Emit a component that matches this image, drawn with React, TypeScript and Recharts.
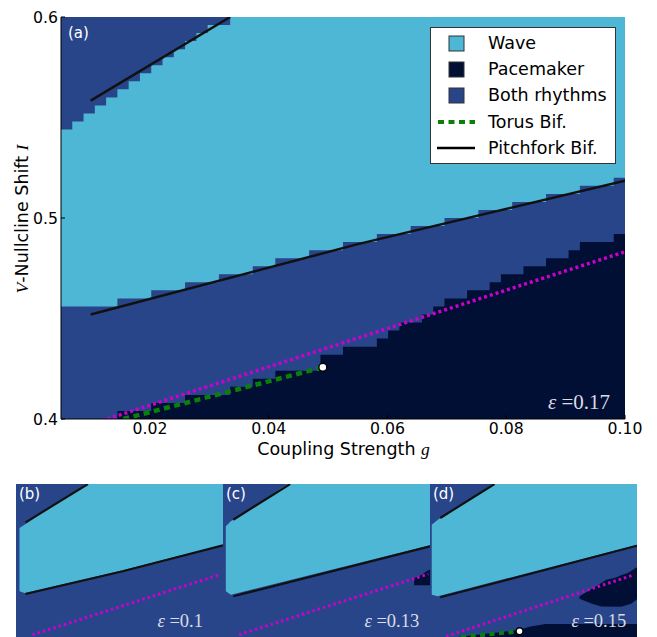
import { Area, CartesianGrid, ComposedChart, Legend, Line, XAxis, YAxis } from "recharts"

// region colours
const WAVE = "#4fb7d6"
const PACE = "#010f35"
const BOTH = "#28458a"
const TORUS = "#0a800a"
const MAGENTA = "#cc00cc"

const xTicks = [0.02, 0.04, 0.06, 0.08, 0.1]
const yTicks = [0.4, 0.5, 0.6]
const legendLabels = ["Wave", "Pacemaker", "Both rhythms", "Torus Bif.", "Pitchfork Bif."]

// panel (a): grid columns (left edges) and the level of each boundary in that column
const gCols = [
  0.005, 0.0069, 0.0088, 0.0107, 0.0126, 0.0145, 0.0164, 0.0183, 0.0202, 0.0221, 0.024, 0.0259, 0.0278,
  0.0297, 0.0316, 0.0335, 0.0354, 0.0373, 0.0392, 0.0411, 0.043, 0.0449, 0.0468, 0.0487, 0.0506, 0.0525,
  0.0544, 0.0563, 0.0582, 0.0601, 0.062, 0.0639, 0.0658, 0.0677, 0.0696, 0.0715, 0.0734, 0.0753, 0.0772,
  0.0791, 0.081, 0.0829, 0.0848, 0.0867, 0.0886, 0.0905, 0.0924, 0.0943, 0.0962, 0.0981, 0.1,
]
const paceTopA = [
  0.4, 0.4, 0.4, 0.4, 0.4, 0.404, 0.404, 0.404, 0.408, 0.408, 0.408, 0.412, 0.412, 0.412, 0.412, 0.416,
  0.416, 0.42, 0.42, 0.424, 0.424, 0.424, 0.424, 0.432, 0.432, 0.436, 0.436, 0.436, 0.44, 0.444, 0.448,
  0.448, 0.452, 0.456, 0.46, 0.46, 0.464, 0.464, 0.468, 0.472, 0.472, 0.476, 0.476, 0.48, 0.48, 0.484,
  0.488, 0.488, 0.488, 0.492, 0.492,
]
const waveLowA = [
  0.456, 0.456, 0.456, 0.456, 0.456, 0.46, 0.46, 0.46, 0.464, 0.464, 0.464, 0.468, 0.468, 0.468, 0.472,
  0.472, 0.472, 0.476, 0.476, 0.48, 0.48, 0.48, 0.484, 0.484, 0.484, 0.488, 0.488, 0.488, 0.492, 0.492,
  0.492, 0.496, 0.496, 0.496, 0.5, 0.5, 0.5, 0.504, 0.504, 0.504, 0.508, 0.508, 0.508, 0.512, 0.512,
  0.512, 0.516, 0.516, 0.516, 0.52, 0.52,
]
const waveHighA = [
  0.544, 0.548, 0.552, 0.556, 0.56, 0.564, 0.568, 0.572, 0.576, 0.58, 0.584, 0.588, 0.592, 0.596, 0.596,
  0.6, 0.6, 0.6, 0.6, 0.6, 0.6, 0.6, 0.6, 0.6, 0.6, 0.6, 0.6, 0.6, 0.6, 0.6, 0.6, 0.6, 0.6, 0.6, 0.6,
  0.6, 0.6, 0.6, 0.6, 0.6, 0.6, 0.6, 0.6, 0.6, 0.6, 0.6, 0.6, 0.6, 0.6, 0.6, 0.6,
]

type Pt = { g: number; I: number }

const pitchUpperA: Pt[] = [{ g: 0.01, I: 0.5584 }, { g: 0.0335, I: 0.6 }]
const pitchLowerA: Pt[] = [{ g: 0.01, I: 0.452 }, { g: 0.055, I: 0.487 }, { g: 0.1, I: 0.5185 }]
const torusA: Pt[] = [{ g: 0.0155, I: 0.4 }, { g: 0.0491, I: 0.4257 }]
const magentaA: Pt[] = [{ g: 0.0128, I: 0.4 }, { g: 0.1, I: 0.4832 }]
const dotA: Pt[] = [{ g: 0.0491, I: 0.4257 }]

// panel (b) eps = 0.1
const bWaveTop: Pt[] = [{ g: 0.0066, I: 0.5482 }, { g: 0.0089, I: 0.5521 }, { g: 0.0372, I: 0.6 }, { g: 0.1, I: 0.6 }]
const bWaveBottom: Pt[] = [{ g: 0.005, I: 0.4738 }, { g: 0.0066, I: 0.4738 }, { g: 0.0089, I: 0.4718 }, { g: 0.054, I: 0.4985 }, { g: 0.1, I: 0.5286 }]
const bPitchUpper: Pt[] = [{ g: 0.0094, I: 0.5549 }, { g: 0.038, I: 0.6 }]
const bPitchLower: Pt[] = [{ g: 0.0094, I: 0.4706 }, { g: 0.054, I: 0.4973 }, { g: 0.1, I: 0.5279 }]
const bMagenta: Pt[] = [{ g: 0.0125, I: 0.4225 }, { g: 0.0984, I: 0.4933 }]

// panel (c) eps = 0.13
const cWaveTop: Pt[] = [{ g: 0.0063, I: 0.5502 }, { g: 0.0086, I: 0.5561 }, { g: 0.0346, I: 0.6 }, { g: 0.1, I: 0.6 }]
const cWaveBottom: Pt[] = [{ g: 0.005, I: 0.4738 }, { g: 0.0063, I: 0.4738 }, { g: 0.0086, I: 0.4698 }, { g: 0.1, I: 0.528 }]
const cPaceTop: Pt[] = [{ g: 0.0927, I: 0.4894 }, { g: 0.095, I: 0.4914 }, { g: 0.0973, I: 0.4953 }, { g: 0.0988, I: 0.498 }, { g: 0.1, I: 0.4992 }]
const cPaceBottom: Pt[] = [{ g: 0.0922, I: 0.4808 }, { g: 0.1, I: 0.4808 }]
const cPitchUpper: Pt[] = [{ g: 0.0097, I: 0.558 }, { g: 0.0358, I: 0.6 }]
const cPitchLower: Pt[] = [{ g: 0.0097, I: 0.4679 }, { g: 0.1, I: 0.5267 }]
const cMagenta: Pt[] = [{ g: 0.0124, I: 0.4227 }, { g: 0.0992, I: 0.4941 }]

// panel (d) eps = 0.15
const dWaveTop: Pt[] = [{ g: 0.0058, I: 0.5521 }, { g: 0.0086, I: 0.558 }, { g: 0.0338, I: 0.6 }, { g: 0.1, I: 0.6 }]
const dWaveBottom: Pt[] = [{ g: 0.005, I: 0.4698 }, { g: 0.0058, I: 0.4698 }, { g: 0.0086, I: 0.4679 }, { g: 0.1, I: 0.5285 }]
const dWedgeTop: Pt[] = [
  { g: 0.0736, I: 0.4679 }, { g: 0.0774, I: 0.4738 }, { g: 0.082, I: 0.4808 }, { g: 0.0859, I: 0.4874 },
  { g: 0.0897, I: 0.4894 }, { g: 0.0927, I: 0.4926 }, { g: 0.0958, I: 0.4953 }, { g: 0.1, I: 0.502 },
]
const dWedgeBottom: Pt[] = [
  { g: 0.0731, I: 0.4655 }, { g: 0.079, I: 0.4595 }, { g: 0.0836, I: 0.456 }, { g: 0.0927, I: 0.4555 },
  { g: 0.0973, I: 0.459 }, { g: 0.1, I: 0.4645 },
]
const dStripTop: Pt[] = [{ g: 0.0161, I: 0.4195 }, { g: 0.0461, I: 0.4285 }, { g: 0.0505, I: 0.432 }, { g: 0.058, I: 0.4353 }, { g: 0.1, I: 0.4353 }]
const dPitchUpper: Pt[] = [{ g: 0.0097, I: 0.56 }, { g: 0.0346, I: 0.6 }]
const dPitchLower: Pt[] = [{ g: 0.0097, I: 0.4667 }, { g: 0.1, I: 0.5274 }]
const dMagenta: Pt[] = [{ g: 0.0124, I: 0.4208 }, { g: 0.0988, I: 0.4933 }]
const dTorus: Pt[] = [{ g: 0.0193, I: 0.42 }, { g: 0.0461, I: 0.4267 }]
const dDot: Pt[] = [{ g: 0.0461, I: 0.4267 }]

const tableA = gCols.map((g, i) => ({ g, pace: paceTopA[i], low: waveLowA[i], high: waveHighA[i] }))

type Fill = { data: Pt[]; color: string }
type Panel = {
  tag: string
  eps: string
  left: number
  fills: Fill[]
  magenta: Pt[]
  pitchUpper: Pt[]
  pitchLower: Pt[]
  torus?: Pt[]
  dot?: Pt[]
}

const panels: Panel[] = [
  {
    tag: "(b)", eps: "0.1", left: 16,
    fills: [{ data: bWaveTop, color: WAVE }, { data: bWaveBottom, color: BOTH }],
    magenta: bMagenta, pitchUpper: bPitchUpper, pitchLower: bPitchLower,
  },
  {
    tag: "(c)", eps: "0.13", left: 223,
    fills: [
      { data: cWaveTop, color: WAVE }, { data: cWaveBottom, color: BOTH },
      { data: cPaceTop, color: PACE }, { data: cPaceBottom, color: BOTH },
    ],
    magenta: cMagenta, pitchUpper: cPitchUpper, pitchLower: cPitchLower,
  },
  {
    tag: "(d)", eps: "0.15", left: 430,
    fills: [
      { data: dWaveTop, color: WAVE }, { data: dWaveBottom, color: BOTH },
      { data: dWedgeTop, color: PACE }, { data: dWedgeBottom, color: BOTH },
      { data: dStripTop, color: PACE },
    ],
    magenta: dMagenta, pitchUpper: dPitchUpper, pitchLower: dPitchLower, torus: dTorus, dot: dDot,
  },
]

const tickStyle = { fill: "#000", fontSize: 15.7, fontFamily: "DejaVu Sans" }
const serifItalic = { fontFamily: "Liberation Serif", fontStyle: "italic" as const }
const EPS_FILL = "#dcdce4"

function LegendBox() {
  const swatches = [WAVE, PACE, BOTH]
  return (
    <div
      style={{
        width: 186, height: 137, boxSizing: "border-box", background: "#fff", border: "1px solid #333",
        position: "relative", fontFamily: "DejaVu Sans", fontSize: 17.5, color: "#000",
      }}
    >
      {legendLabels.map((label, i) => (
        <div key={label} style={{ position: "absolute", left: 0, top: 2 + i * 26.2, height: 26, width: 184 }}>
          <svg width={50} height={26} style={{ position: "absolute", left: 0, top: 0 }}>
            {i < 3 && <rect x={18} y={6} width={15} height={15} fill={swatches[i]} stroke="#333" strokeWidth={1} />}
            {i === 3 && <line x1={7} y1={13} x2={44} y2={13} stroke={TORUS} strokeWidth={4} strokeDasharray="6 4.5" />}
            {i === 4 && <line x1={6} y1={13} x2={44} y2={13} stroke="#000" strokeWidth={2.5} />}
          </svg>
          <span style={{ position: "absolute", left: 57, top: 2, lineHeight: "22px", whiteSpace: "nowrap" }}>{label}</span>
        </div>
      ))}
    </div>
  )
}

function MainPanel() {
  return (
    <ComposedChart width={657} height={460} data={tableA} margin={{ top: 17, right: 32, bottom: 0, left: 0 }}>
      <CartesianGrid horizontal={false} vertical={false} fill={BOTH} fillOpacity={1} stroke="none" />
      <Area dataKey="high" type="stepAfter" fill={WAVE} fillOpacity={1} stroke="none" isAnimationActive={false} />
      <Area dataKey="low" type="stepAfter" fill={BOTH} fillOpacity={1} stroke="none" isAnimationActive={false} />
      <Area dataKey="pace" type="stepAfter" fill={PACE} fillOpacity={1} stroke="none" isAnimationActive={false} />
      <Line data={magentaA} dataKey="I" stroke={MAGENTA} strokeWidth={3.5} strokeDasharray="3 3" dot={false} activeDot={false} isAnimationActive={false} />
      <Line data={torusA} dataKey="I" stroke={TORUS} strokeWidth={4.5} strokeDasharray="6 4.5" dot={false} activeDot={false} isAnimationActive={false} />
      <Line data={pitchLowerA} dataKey="I" stroke="#111" strokeWidth={2.5} dot={false} activeDot={false} isAnimationActive={false} />
      <Line data={pitchUpperA} dataKey="I" stroke="#111" strokeWidth={2.5} dot={false} activeDot={false} isAnimationActive={false} />
      <Line data={dotA} dataKey="I" stroke="none" dot={{ r: 4, fill: "#fff", stroke: "#000", strokeWidth: 1.5 }} activeDot={false} isAnimationActive={false} />
      <XAxis
        dataKey="g" type="number" domain={[0.005, 0.1]} allowDataOverflow ticks={xTicks}
        tickFormatter={(v: number) => v.toFixed(2)} height={41} tickSize={-4} tickMargin={8} tick={tickStyle} stroke="#000"
      />
      <XAxis xAxisId="top" orientation="top" type="number" domain={[0.005, 0.1]} allowDataOverflow ticks={xTicks} height={0} tickSize={-4} tick={false} stroke="#000" />
      <YAxis
        type="number" domain={[0.4, 0.6]} allowDataOverflow ticks={yTicks}
        tickFormatter={(v: number) => v.toFixed(1)} width={61} tickSize={-4} tickMargin={7} tick={tickStyle} stroke="#000"
      />
      <YAxis yAxisId="right" orientation="right" type="number" domain={[0.4, 0.6]} allowDataOverflow ticks={yTicks} width={0} tickSize={-4} tick={false} stroke="#000" />
      <Legend
        layout="horizontal" verticalAlign="middle" align="center"
        wrapperStyle={{ position: "absolute", left: 430, top: 27, width: 186, height: 137 }}
        content={() => <LegendBox />}
      />
    </ComposedChart>
  )
}

function SmallPanel({ p }: { p: Panel }) {
  return (
    <div style={{ position: "absolute", left: p.left - 1, top: 483 }}>
      <ComposedChart width={209} height={172} margin={{ top: 1, right: 1, bottom: 1, left: 1 }}>
        <CartesianGrid horizontal={false} vertical={false} fill={BOTH} fillOpacity={1} stroke="none" />
        {p.fills.map((f, i) => (
          <Area key={i} data={f.data} dataKey="I" type="linear" fill={f.color} fillOpacity={1} stroke="none" isAnimationActive={false} />
        ))}
        <Line data={p.magenta} dataKey="I" stroke={MAGENTA} strokeWidth={3} strokeDasharray="2.5 3" dot={false} activeDot={false} isAnimationActive={false} />
        {p.torus && (
          <Line data={p.torus} dataKey="I" stroke={TORUS} strokeWidth={4} strokeDasharray="5 4.5" dot={false} activeDot={false} isAnimationActive={false} />
        )}
        <Line data={p.pitchLower} dataKey="I" stroke="#111" strokeWidth={2.2} dot={false} activeDot={false} isAnimationActive={false} />
        <Line data={p.pitchUpper} dataKey="I" stroke="#111" strokeWidth={2.2} dot={false} activeDot={false} isAnimationActive={false} />
        {p.dot && (
          <Line data={p.dot} dataKey="I" stroke="none" dot={{ r: 3.5, fill: "#fff", stroke: "#000", strokeWidth: 1.5 }} activeDot={false} isAnimationActive={false} />
        )}
        <XAxis dataKey="g" type="number" domain={[0.005, 0.1]} allowDataOverflow height={0} tick={false} tickLine={false} stroke="#000" />
        <XAxis xAxisId="top" orientation="top" type="number" domain={[0.005, 0.1]} allowDataOverflow height={0} tick={false} tickLine={false} stroke="#000" />
        <YAxis type="number" domain={[0.4, 0.6]} allowDataOverflow width={0} tick={false} tickLine={false} stroke="#000" />
        <YAxis yAxisId="right" orientation="right" type="number" domain={[0.4, 0.6]} allowDataOverflow width={0} tick={false} tickLine={false} stroke="#000" />
      </ComposedChart>
    </div>
  )
}

export default function App() {
  return (
    <div style={{ position: "absolute", left: 0, top: 0, width: 657, height: 637, overflow: "hidden", background: "#fff" }}>
      <div style={{ position: "absolute", left: 0, top: 0 }}>
        <MainPanel />
      </div>
      {panels.map((p) => (
        <SmallPanel key={p.tag} p={p} />
      ))}
      <svg width={657} height={637} style={{ position: "absolute", left: 0, top: 0, pointerEvents: "none" }}>
        <text transform="translate(28,219) rotate(-90)" textAnchor="middle" fontFamily="DejaVu Sans" fontSize={17.5} fill="#000">
          <tspan {...serifItalic}>V</tspan>-Nullcline Shift <tspan {...serifItalic}>I</tspan>
        </text>
        <text x={343.5} y={455} textAnchor="middle" fontFamily="DejaVu Sans" fontSize={17.5} fill="#000">
          Coupling Strength <tspan {...serifItalic}>g</tspan>
        </text>
        <text x={68} y={38} fontFamily="DejaVu Sans" fontSize={15} fill="#fff">(a)</text>
        <text x={548} y={409} fontFamily="Liberation Serif" fontSize={21} fill={EPS_FILL}>
          <tspan fontStyle="italic">ε</tspan> =0.17
        </text>
        {panels.map((p) => (
          <g key={p.tag}>
            <text x={p.left + 3} y={499} fontFamily="DejaVu Sans" fontSize={15} fill="#fff">{p.tag}</text>
            <text x={p.left + 141.5} y={627} fontFamily="Liberation Serif" fontSize={18.5} fill={EPS_FILL}>
              <tspan fontStyle="italic">ε</tspan> ={p.eps}
            </text>
          </g>
        ))}
      </svg>
    </div>
  )
}
